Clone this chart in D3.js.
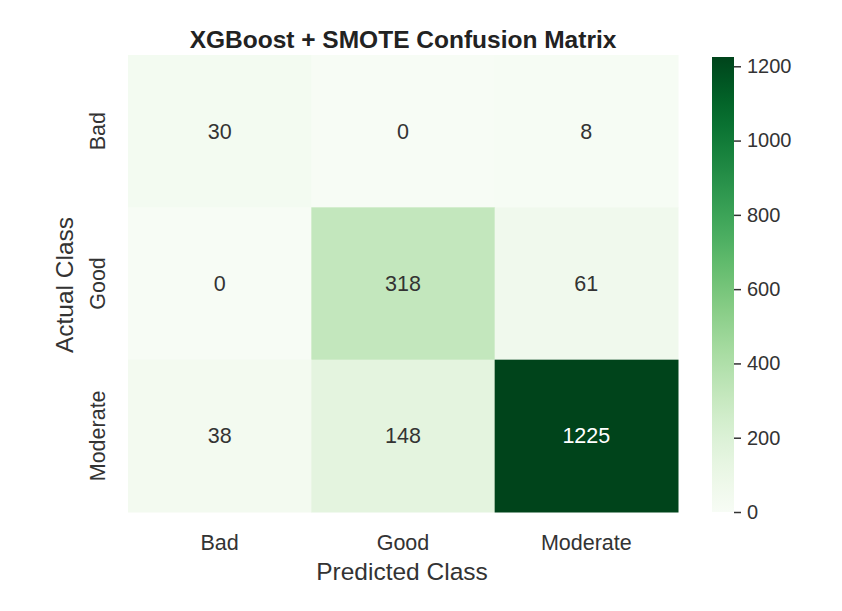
<!DOCTYPE html>
<html>
<head>
<meta charset="utf-8">
<script src="https://cdn.jsdelivr.net/npm/d3@7"></script>
<style>
  body { margin: 0; background: #fff; }
  text { font-family: "Liberation Sans", Arial, sans-serif; }
</style>
</head>
<body>
<script>
// rows = actual, cols = predicted
var classes = ['Bad', 'Good', 'Moderate'];
var rowBad = [30, 0, 8];
var rowGood = [0, 318, 61];
var rowModerate = [38, 148, 1225];
var colorTicks = [0, 200, 400, 600, 800, 1000, 1200];

var matrix = [rowBad, rowGood, rowModerate];
var cells = [];
matrix.forEach(function (row, i) {
    row.forEach(function (v, j) {
        cells.push({ actual: classes[i], predicted: classes[j], value: v });
    });
});
var vmax = d3.max(cells, function (d) { return d.value; });

var svg = d3.select('body').append('svg')
    .attr('width', 842)
    .attr('height', 611);

var x = d3.scaleBand().domain(classes).range([128, 678]);
var y = d3.scaleBand().domain(classes).range([55, 512]);
var color = d3.scaleSequential(d3.interpolateGreens).domain([0, vmax]);

// cells
svg.append('g').selectAll('rect')
    .data(cells)
    .enter().append('rect')
    .attr('x', function (d) { return x(d.predicted); })
    .attr('y', function (d) { return y(d.actual); })
    .attr('width', x.bandwidth() + 0.5)
    .attr('height', y.bandwidth() + 0.5)
    .attr('fill', function (d) { return color(d.value); });

svg.append('g').selectAll('text')
    .data(cells)
    .enter().append('text')
    .attr('x', function (d) { return x(d.predicted) + x.bandwidth() / 2; })
    .attr('y', function (d) { return y(d.actual) + y.bandwidth() / 2; })
    .attr('dy', '0.35em')
    .attr('text-anchor', 'middle')
    .style('font-size', '21.5px')
    .attr('fill', function (d) { return d.value / vmax > 0.6 ? '#fff' : '#333'; })
    .text(function (d) { return d.value; });

// x tick labels
svg.append('g').selectAll('text')
    .data(classes)
    .enter().append('text')
    .attr('x', function (d) { return x(d) + x.bandwidth() / 2; })
    .attr('y', 542)
    .attr('dy', '0.35em')
    .attr('text-anchor', 'middle')
    .style('font-size', '21.5px')
    .attr('fill', '#333')
    .text(function (d) { return d; });

// y tick labels
svg.append('g').selectAll('text')
    .data(classes)
    .enter().append('text')
    .attr('transform', function (d) {
        return 'translate(97,' + (y(d) + y.bandwidth() / 2) + ') rotate(-90)';
    })
    .attr('dy', '0.35em')
    .attr('text-anchor', 'middle')
    .style('font-size', '21.5px')
    .attr('fill', '#333')
    .text(function (d) { return d; });

// axis titles
svg.append('text')
    .attr('x', 402)
    .attr('y', 571)
    .attr('dy', '0.35em')
    .attr('text-anchor', 'middle')
    .style('font-size', '24.5px')
    .attr('fill', '#333')
    .text('Predicted Class');

svg.append('text')
    .attr('transform', 'translate(64,285) rotate(-90)')
    .attr('dy', '0.35em')
    .attr('text-anchor', 'middle')
    .style('font-size', '24.5px')
    .attr('fill', '#333')
    .text('Actual Class');

svg.append('text')
    .attr('x', 403)
    .attr('y', 39)
    .attr('dy', '0.35em')
    .attr('text-anchor', 'middle')
    .style('font-size', '24.5px')
    .style('font-weight', 'bold')
    .attr('fill', '#222')
    .text('XGBoost + SMOTE Confusion Matrix');

// colorbar
var cy = d3.scaleLinear().domain([0, vmax]).range([512, 57]);
var grad = svg.append('defs').append('linearGradient')
    .attr('id', 'cbar')
    .attr('x1', 0).attr('y1', 1).attr('x2', 0).attr('y2', 0);
d3.range(0, 1.0001, 0.05).forEach(function (t) {
    grad.append('stop')
        .attr('offset', t)
        .attr('stop-color', d3.interpolateGreens(t));
});
svg.append('rect')
    .attr('x', 712)
    .attr('y', cy(vmax))
    .attr('width', 22)
    .attr('height', cy(0) - cy(vmax))
    .attr('fill', 'url(#cbar)');

var cax = svg.append('g')
    .attr('transform', 'translate(734,0)')
    .call(d3.axisRight(cy).tickValues(colorTicks).tickFormat(d3.format('d'))
        .tickSize(7).tickPadding(6));
cax.select('.domain').remove();
cax.selectAll('line').attr('stroke', '#333').attr('stroke-width', 1.5);
cax.selectAll('text')
    .style('font-size', '20px')
    .style('font-family', '"Liberation Sans", Arial, sans-serif')
    .attr('fill', '#333');
</script>
</body>
</html>
